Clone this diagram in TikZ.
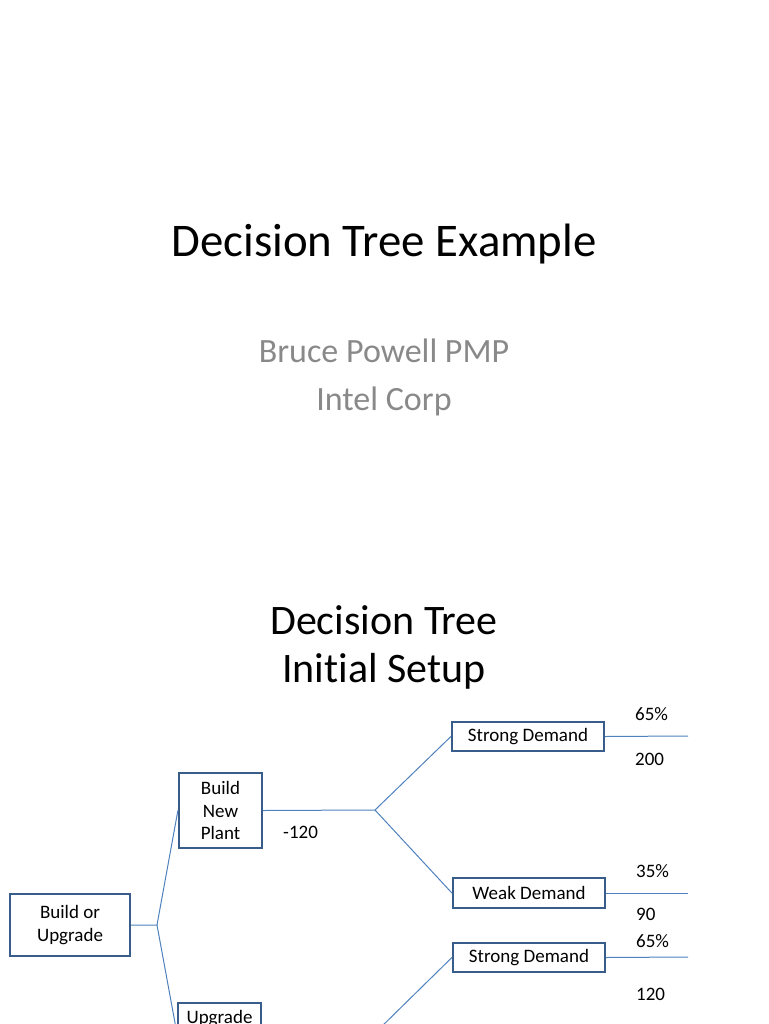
\documentclass[tikz,border=0pt]{standalone}
\usepackage{fontspec}
\setmainfont{Carlito}[Ligatures=NoCommon]
\definecolor{boxline}{HTML}{385D8A}
\definecolor{branchblue}{HTML}{4F81BD}
\definecolor{subgray}{HTML}{898989}
\begin{document}
\begin{tikzpicture}[x=1pt,y=-1pt,
    decision/.style={draw=boxline, line width=2.2pt, fill=white, align=center,
      inner sep=0pt, font=\fontsize{19}{22.5}\selectfont},
    branch/.style={draw=branchblue, line width=1pt},
    value/.style={anchor=base west, inner sep=0pt, font=\fontsize{19}{22.5}\selectfont},
    heading/.style={anchor=base, inner sep=0pt, font=\fontsize{42}{48}\selectfont}]
	\useasboundingbox (0,0) rectangle (768,1024);
	\clip (0,0) rectangle (768,1024);
	
	% Title slide
	\node[heading, font=\fontsize{46.8}{50}\selectfont] (title) at (384,256) {Decision Tree Example};
	\node[anchor=base, inner sep=0pt, text=subgray, font=\fontsize{34}{40}\selectfont] (author) at (384,362) {Bruce Powell PMP};
	\node[anchor=base, inner sep=0pt, text=subgray, font=\fontsize{34}{40}\selectfont] (company) at (384,410) {Intel Corp};
	
	% Second slide
	\node[heading] (setupa) at (384,634) {Decision Tree};
	\node[heading] (setupb) at (384,682) {Initial Setup};
	
	% Branch points
	\coordinate (j1) at (157,925);
	\coordinate (j2) at (375,810);
	\coordinate (j3) at (375,1033);
	\coordinate (e1) at (688,736);
	\coordinate (e2) at (688,893);
	\coordinate (e3) at (688,957);
	
	% Boxes
	\node[decision, minimum width=120, minimum height=62] (bou) at (70,925) {Build or\\Upgrade};
	\node[decision, minimum width=83, minimum height=75] (bnp) at (220.5,810.5) {Build\\New\\Plant};
	\node[decision, minimum width=83, text height=20, text depth=40, anchor=north] (upg) at (219.5,1002) {Upgrade};
	\node[decision, minimum width=152, minimum height=29] (sd1) at (528,736.5) {Strong Demand};
	\node[decision, minimum width=152, minimum height=30] (wd) at (529,893) {Weak Demand};
	\node[decision, minimum width=152, minimum height=29] (sd2) at (529,957.5) {Strong Demand};
	
	% Connectors
	\draw[branch] (bou.east) -- (j1) -- (bnp.west);
	\draw[branch] (j1) -- (upg.west);
	\draw[branch] (bnp.east) -- (j2) -- (sd1.west);
	\draw[branch] (j2) -- (wd.west);
	\draw[branch] (upg.east) -- (j3) -- (sd2.west);
	\draw[branch] (sd1.east) -- (e1);
	\draw[branch] (wd.east) -- (e2);
	\draw[branch] (sd2.east) -- (e3);
	
	% Costs, odds and payoffs
	\node[value] (cost) at (283,838) {-120};
	\node[value] (p1) at (635,720) {65\%};
	\node[value] (v1) at (635,765) {200};
	\node[value] (p2) at (636,877) {35\%};
	\node[value] (v2) at (636,920) {90};
	\node[value] (p3) at (636,947) {65\%};
	\node[value] (v3) at (636,1000) {120};
\end{tikzpicture}
\end{document}
